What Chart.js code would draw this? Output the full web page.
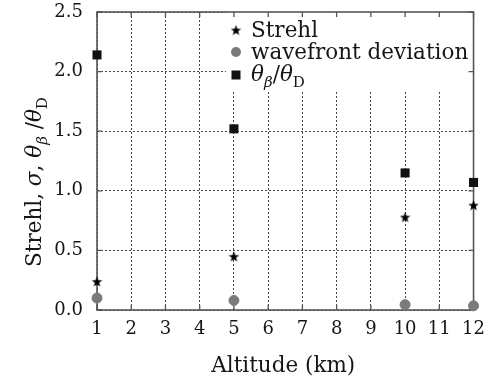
<!DOCTYPE html>
<html lang="en">

<head>
    <meta charset="UTF-8">
    <title>Strehl vs altitude</title>
    <script src="https://cdn.jsdelivr.net/npm/chart.js"></script>
    <style>
        body { margin: 0; background: #fff; }
        #wrap { width: 494px; height: 383px; }
    </style>
</head>

<body>
    <div id="wrap"><canvas id="grafico"></canvas></div>

    <script>
        // valores medidos por altitud
        const altitudes = [1, 5, 10, 12];
        const strehl = [0.24, 0.45, 0.78, 0.88];
        const wavefrontDev = [0.10, 0.08, 0.045, 0.035];
        const thetaRatio = [2.14, 1.52, 1.15, 1.07];
        const xTicks = [1, 2, 3, 4, 5, 6, 7, 8, 9, 10, 11, 12];
        const yTicks = [0, 0.5, 1.0, 1.5, 2.0, 2.5];

        const FONT = '"DejaVu Serif", serif';
        const TICK = 18;   // etiquetas de los ejes
        const TEXT = 21.5; // titulos y leyenda
        const INK = '#161616';

        // estrella de 5 puntas rellena
        function makeStar(size) {
            const c = document.createElement('canvas');
            c.width = size; c.height = size;
            const g = c.getContext('2d');
            const r = size / 2, ri = r * 0.42;
            g.beginPath();
            for (let i = 0; i < 10; i++) {
                const a = -Math.PI / 2 + i * Math.PI / 5;
                const rr = i % 2 ? ri : r;
                g.lineTo(r + rr * Math.cos(a), r + rr * Math.sin(a) + 0.6);
            }
            g.closePath();
            g.fillStyle = '#000';
            g.fill();
            return c;
        }
        const star = makeStar(11);

        const pts = ys => altitudes.map((x, i) => ({ x: x, y: ys[i] }));

        // texto con subindices: [texto, cursiva, subindice]
        function setFont(ctx, p, size) {
            ctx.font = (p[1] ? 'italic ' : '') + (p[2] ? size * 0.7 : size) + 'px ' + FONT;
        }
        function richWidth(ctx, parts, size) {
            let w = 0;
            parts.forEach(p => { setFont(ctx, p, size); w += ctx.measureText(p[0]).width; });
            return w;
        }
        function drawRich(ctx, parts, x, y, size) {
            parts.forEach(p => {
                setFont(ctx, p, size);
                ctx.fillText(p[0], x, p[2] ? y + size * 0.3 : y);
                x += ctx.measureText(p[0]).width;
            });
        }

        const yTitle = [['Strehl, ', false, false], ['σ', true, false], [', ', false, false],
            ['θ', true, false], ['β', true, true], [' /', false, false], ['θ', true, false], ['D', false, true]];
        const thetaLabel = [['θ', true, false], ['β', true, true], ['/', false, false], ['θ', true, false], ['D', false, true]];

        const marcos = {
            id: 'marcos',
            beforeDatasetsDraw(chart) {
                const { ctx, chartArea: a, scales } = chart;
                ctx.save();
                // fondo blanco de la leyenda tapa la reticula
                ctx.fillStyle = '#fff';
                ctx.fillRect(226, a.top, a.right - 226, 92 - a.top);

                ctx.strokeStyle = '#555';
                ctx.lineWidth = 1.3;
                // marcas hacia adentro
                ctx.beginPath();
                xTicks.forEach(v => {
                    const px = scales.x.getPixelForValue(v);
                    ctx.moveTo(px, a.bottom); ctx.lineTo(px, a.bottom - 5);
                    ctx.moveTo(px, a.top); ctx.lineTo(px, a.top + 5);
                });
                yTicks.forEach(v => {
                    const py = scales.y.getPixelForValue(v);
                    ctx.moveTo(a.left, py); ctx.lineTo(a.left + 5, py);
                    ctx.moveTo(a.right, py); ctx.lineTo(a.right - 5, py);
                });
                ctx.stroke();
                ctx.lineWidth = 1.6;
                ctx.strokeRect(a.left, a.top, a.right - a.left, a.bottom - a.top);
                ctx.restore();
            },
            afterDraw(chart) {
                const { ctx, chartArea: a } = chart;
                ctx.save();
                ctx.fillStyle = INK;
                ctx.textBaseline = 'alphabetic';

                // titulo eje y
                ctx.save();
                ctx.translate(41, 182);
                ctx.rotate(-Math.PI / 2);
                const w = richWidth(ctx, yTitle, TEXT);
                drawRich(ctx, yTitle, -w / 2, 0, TEXT);
                ctx.restore();

                // titulo eje x
                ctx.font = TEXT + 'px ' + FONT;
                ctx.textAlign = 'center';
                ctx.fillText('Altitude (km)', (a.left + a.right) / 2 - 2, 372);
                ctx.textAlign = 'left';

                // leyenda
                const lx = 236, tx = 251;
                ctx.drawImage(star, lx - 5.5, 30 - 5.5);
                ctx.beginPath();
                ctx.arc(lx, 52, 5, 0, Math.PI * 2);
                ctx.fillStyle = '#7a7a7a';
                ctx.fill();
                ctx.fillStyle = '#111';
                ctx.fillRect(lx - 4.5, 75 - 4.5, 9, 9);
                ctx.fillStyle = INK;
                ctx.font = TEXT + 'px ' + FONT;
                ctx.fillText('Strehl', tx, 37);
                ctx.fillText('wavefront deviation', tx, 59);
                drawRich(ctx, thetaLabel, tx, 81, TEXT);
                ctx.restore();
            }
        };

        new Chart(document.getElementById('grafico'), {
            type: 'scatter',
            data: {
                datasets: [{
                    label: 'Strehl',
                    data: pts(strehl),
                    pointStyle: star,
                    clip: false
                }, {
                    label: 'wavefront deviation',
                    data: pts(wavefrontDev),
                    pointStyle: 'circle',
                    pointRadius: 5,
                    backgroundColor: '#7a7a7a',
                    borderColor: '#7a7a7a',
                    clip: false
                }, {
                    label: 'θβ/θD',
                    data: pts(thetaRatio),
                    pointStyle: 'rect',
                    pointRadius: 6.4,
                    backgroundColor: '#111',
                    borderColor: '#111',
                    borderWidth: 0,
                    clip: false
                }]
            },
            options: {
                responsive: true,
                maintainAspectRatio: false,
                animation: false,
                layout: { padding: { left: 0, right: 16, top: 12, bottom: 0 } },
                plugins: { legend: { display: false }, tooltip: { enabled: false } },
                scales: {
                    x: {
                        type: 'linear',
                        min: 1, max: 12,
                        afterFit: s => { s.height = 73; },
                        afterBuildTicks: s => { s.ticks = xTicks.map(v => ({ value: v })); },
                        ticks: { padding: 9, color: INK, font: { family: FONT, size: TICK } },
                        grid: { color: '#444', lineWidth: 1, drawTicks: false },
                        border: { display: false, dash: [2, 2] }
                    },
                    y: {
                        min: 0, max: 2.5,
                        afterFit: s => { s.width = 97; s.paddingTop = 0; s.paddingBottom = 0; },
                        afterBuildTicks: s => { s.ticks = yTicks.map(v => ({ value: v })); },
                        ticks: { padding: 14, color: INK, font: { family: FONT, size: TICK }, callback: v => v.toFixed(1) },
                        grid: { color: '#444', lineWidth: 1, drawTicks: false },
                        border: { display: false, dash: [2, 2] }
                    }
                }
            },
            plugins: [marcos]
        });
    </script>
</body>

</html>
